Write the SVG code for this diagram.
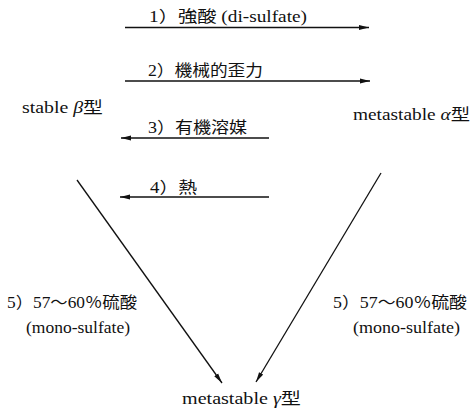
<svg xmlns="http://www.w3.org/2000/svg" width="472" height="410" viewBox="0 0 472 410" font-family="'Liberation Serif', 'DejaVu Serif', 'Noto Sans CJK JP', serif">
<style>
text{font-size:16px;fill:#111}
.ln{stroke:#111;stroke-width:1.3;fill:none;marker-end:url(#ah)}
</style>
<defs>
<marker id="ah" viewBox="0 0 10 6" refX="10" refY="3" markerWidth="10" markerHeight="6" markerUnits="userSpaceOnUse" orient="auto">
<path d="M0,0.6 L10,3 L0,5.4 Z" fill="#111"/>
</marker>
</defs>
<rect width="472" height="410" fill="#fff"/>
<g id="beta"><text x="22" y="113" textLength="81" lengthAdjust="spacingAndGlyphs">stable <tspan font-style="italic">β</tspan>型</text></g>
<g id="alpha"><text x="353" y="120" textLength="117" lengthAdjust="spacingAndGlyphs">metastable <tspan font-style="italic">α</tspan>型</text></g>
<g id="gamma"><text x="182" y="404" textLength="119" lengthAdjust="spacingAndGlyphs">metastable <tspan font-style="italic">γ</tspan>型</text></g>
<g id="connectors">
<line class="ln" x1="125" y1="27.5" x2="369" y2="27.5"/>
<line class="ln" x1="125" y1="81" x2="370" y2="81"/>
<line class="ln" x1="269" y1="138" x2="121" y2="138"/>
<line class="ln" x1="269" y1="197" x2="120" y2="197"/>
<line class="ln" x1="77" y1="180" x2="222" y2="383"/>
<line class="ln" x1="381" y1="173" x2="256" y2="382"/>
</g>
<g id="labels">
<text x="149" y="22" textLength="158" lengthAdjust="spacingAndGlyphs">1）強酸 (di-sulfate)</text>
<text x="148" y="76" textLength="115" lengthAdjust="spacingAndGlyphs">2）機械的歪力</text>
<text x="148" y="133" textLength="99" lengthAdjust="spacingAndGlyphs">3）有機溶媒</text>
<text x="150" y="193" textLength="47" lengthAdjust="spacingAndGlyphs">4）熱</text>
<text x="7" y="308" textLength="130" lengthAdjust="spacingAndGlyphs">5）57〜60％硫酸</text>
<text x="26" y="333" textLength="104" lengthAdjust="spacingAndGlyphs">(mono-sulfate)</text>
<text x="333" y="308" textLength="134" lengthAdjust="spacingAndGlyphs">5）57〜60％硫酸</text>
<text x="353" y="333" textLength="107" lengthAdjust="spacingAndGlyphs">(mono-sulfate)</text>
</g>
</svg>
